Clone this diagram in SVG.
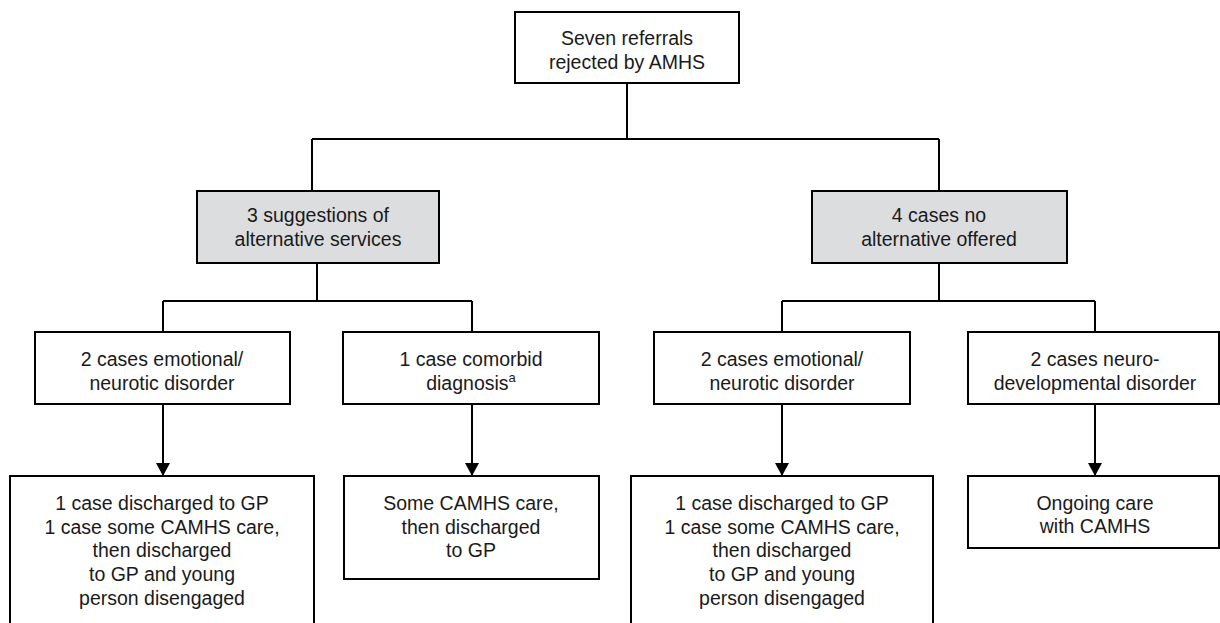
<svg xmlns="http://www.w3.org/2000/svg" width="1220" height="623" viewBox="0 0 1220 623">
<style>
.box{fill:#ffffff;stroke:#000;stroke-width:2}
.gray{fill:#dcdddf;stroke:#000;stroke-width:2}
.t{font-family:"Liberation Sans",Arial,sans-serif;font-size:19.5px;fill:#1a1a1a;text-anchor:middle}
.ln{fill:none;stroke:#000;stroke-width:2}
</style>
<defs>
<marker id="arr" markerWidth="14" markerHeight="14" refX="13" refY="7" orient="auto" markerUnits="userSpaceOnUse">
<path d="M0,0 L13,7 L0,14 Z" fill="#000"/>
</marker>
</defs>
<rect width="1220" height="623" fill="#fff"/>
<g id="connectors">
<path class="ln" d="M627,83 V139 M312,139 H939 M312,139 V191 M939,139 V191"/>
<path class="ln" d="M317,263 V301 M163,301 H472 M163,301 V332 M472,301 V332"/>
<path class="ln" d="M939,263 V301 M782,301 H1095 M782,301 V332 M1095,301 V332"/>
<line class="ln" x1="163" y1="404" x2="163" y2="476" marker-end="url(#arr)"/>
<line class="ln" x1="472" y1="404" x2="472" y2="476" marker-end="url(#arr)"/>
<line class="ln" x1="782" y1="404" x2="782" y2="476" marker-end="url(#arr)"/>
<line class="ln" x1="1095" y1="404" x2="1095" y2="476" marker-end="url(#arr)"/>
</g>
<g id="n-top">
<rect class="box" x="515" y="12" width="224" height="71"/>
<text class="t" x="627" y="45">Seven referrals</text>
<text class="t" x="627" y="69">rejected by AMHS</text>
</g>
<g id="n-alt">
<rect class="gray" x="197" y="191" width="242" height="72"/>
<text class="t" x="318" y="222">3 suggestions of</text>
<text class="t" x="318" y="246">alternative services</text>
</g>
<g id="n-noalt">
<rect class="gray" x="812" y="191" width="255" height="72"/>
<text class="t" x="939" y="222">4 cases no</text>
<text class="t" x="939" y="246">alternative offered</text>
</g>
<g id="n-emo1">
<rect class="box" x="35" y="332" width="255" height="72"/>
<text class="t" x="162" y="366">2 cases emotional/</text>
<text class="t" x="162" y="390">neurotic disorder</text>
</g>
<g id="n-comorbid">
<rect class="box" x="343" y="332" width="256" height="72"/>
<text class="t" x="471" y="366">1 case comorbid</text>
<text class="t" x="471" y="390">diagnosis<tspan dy="-8" font-size="13px">a</tspan></text>
</g>
<g id="n-emo2">
<rect class="box" x="654" y="332" width="256" height="72"/>
<text class="t" x="782" y="366">2 cases emotional/</text>
<text class="t" x="782" y="390">neurotic disorder</text>
</g>
<g id="n-neuro">
<rect class="box" x="968" y="332" width="251" height="72"/>
<text class="t" x="1095" y="366">2 cases neuro-</text>
<text class="t" x="1095" y="390">developmental disorder</text>
</g>
<g id="n-out1">
<rect class="box" x="10" y="476" width="304" height="160"/>
<text class="t" x="162" y="510">1 case discharged to GP</text>
<text class="t" x="162" y="534">1 case some CAMHS care,</text>
<text class="t" x="162" y="557">then discharged</text>
<text class="t" x="162" y="581">to GP and young</text>
<text class="t" x="162" y="605">person disengaged</text>
</g>
<g id="n-out2">
<rect class="box" x="344" y="476" width="255" height="103"/>
<text class="t" x="471" y="510">Some CAMHS care,</text>
<text class="t" x="471" y="534">then discharged</text>
<text class="t" x="471" y="557">to GP</text>
</g>
<g id="n-out3">
<rect class="box" x="631" y="476" width="302" height="160"/>
<text class="t" x="782" y="510">1 case discharged to GP</text>
<text class="t" x="782" y="534">1 case some CAMHS care,</text>
<text class="t" x="782" y="557">then discharged</text>
<text class="t" x="782" y="581">to GP and young</text>
<text class="t" x="782" y="605">person disengaged</text>
</g>
<g id="n-out4">
<rect class="box" x="968" y="476" width="251" height="72"/>
<text class="t" x="1095" y="510">Ongoing care</text>
<text class="t" x="1095" y="533">with CAMHS</text>
</g>
</svg>
